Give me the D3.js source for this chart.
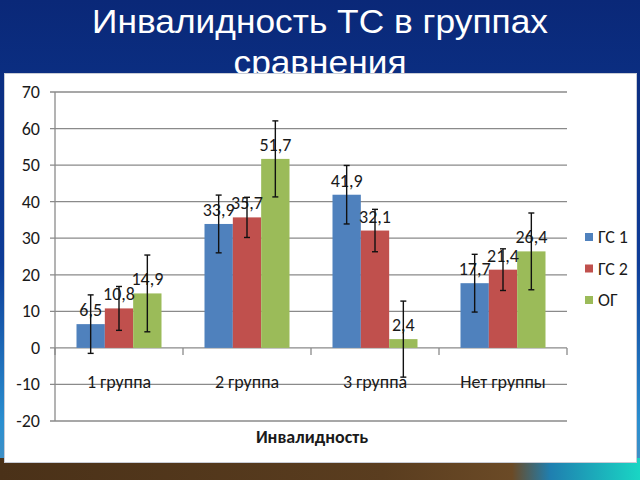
<!DOCTYPE html>
<html><head><meta charset="utf-8">
<script src="https://cdn.jsdelivr.net/npm/d3@7"></script>
<style>html,body{margin:0;padding:0;background:#0b2a7c;}svg{display:block;}</style>
</head><body>
<script>
const categories = ["1 группа", "2 группа", "3 группа", "Нет группы"];
const seriesNames = ["ГС 1", "ГС 2", "ОГ"];
const gs1 = [6.5, 33.9, 41.9, 17.7];
const gs2 = [10.8, 35.7, 32.1, 21.4];
const og = [14.9, 51.7, 2.4, 26.4];
const gs1Err = [8.0, 7.9, 8.0, 7.9];
const gs2Err = [6.0, 5.5, 5.8, 5.7];
const ogErr = [10.5, 10.4, 10.4, 10.5];
const yTicks = [-20, -10, 0, 10, 20, 30, 40, 50, 60, 70];
const colors = ["#4f81bd", "#c0504d", "#9bbb59"];
const titleLines = ["Инвалидность ТС в группах", "сравнения"];
const axisTitle = "Инвалидность";

const values = [gs1, gs2, og];
const errs = [gs1Err, gs2Err, ogErr];
const W = 640, H = 480;
const svg = d3.select("body").append("svg").attr("width", W).attr("height", H);
const defs = svg.append("defs");

const bg = defs.append("linearGradient").attr("id", "bg").attr("x1", 0).attr("y1", 0).attr("x2", 0).attr("y2", 1);
bg.append("stop").attr("offset", "0%").attr("stop-color", "#0a2878");
bg.append("stop").attr("offset", "55%").attr("stop-color", "#0d3c98");
bg.append("stop").attr("offset", "88%").attr("stop-color", "#2a8fd0");
bg.append("stop").attr("offset", "100%").attr("stop-color", "#4a90c0");
svg.append("rect").attr("width", W).attr("height", H).attr("fill", "url(#bg)");

const bot = defs.append("linearGradient").attr("id", "bot").attr("x1", 0).attr("y1", 0).attr("x2", 1).attr("y2", 0);
bot.append("stop").attr("offset", "0%").attr("stop-color", "#4a3118");
bot.append("stop").attr("offset", "60%").attr("stop-color", "#5a3d1f");
bot.append("stop").attr("offset", "80%").attr("stop-color", "#6b4a26");
bot.append("stop").attr("offset", "86%").attr("stop-color", "#1f7fb0");
bot.append("stop").attr("offset", "100%").attr("stop-color", "#19d6c4");
svg.append("rect").attr("x", 0).attr("y", 458).attr("width", W).attr("height", 22).attr("fill", "url(#bot)");

// title
const titleWidths = [456, 173];
svg.selectAll("text.title").data(titleLines).enter().append("text")
  .attr("x", 320).attr("y", (d, i) => 33 + i * 41)
  .attr("text-anchor", "middle").attr("fill", "#ffffff")
  .attr("font-family", "Liberation Sans, Arial, sans-serif").attr("font-size", 33)
  .attr("textLength", (d, i) => titleWidths[i]).attr("lengthAdjust", "spacingAndGlyphs")
  .text(d => d);

// white panel
svg.append("rect").attr("x", 4.5).attr("y", 73.5).attr("width", 632).attr("height", 389)
  .attr("fill", "#ffffff").attr("stroke", "#c8ccd6").attr("stroke-width", 1);

const font = "Carlito, Lato, 'Open Sans', sans-serif";
const y = d3.scaleLinear().domain([-20, 70]).range([421, 92]);
const x0 = d3.scaleBand().domain(categories).range([55, 567]);
const x1 = d3.scaleBand().domain(seriesNames).range([21.5, x0.bandwidth() - 21.5]);

// gridlines
svg.append("g").selectAll("line").data(yTicks).enter().append("line")
  .attr("x1", 50).attr("x2", 567).attr("y1", d => y(d)).attr("y2", d => y(d))
  .attr("stroke", "#8a8a8a").attr("stroke-width", 1.3);
svg.append("line").attr("x1", 55).attr("x2", 55).attr("y1", y(70)).attr("y2", y(-20))
  .attr("stroke", "#8a8a8a").attr("stroke-width", 1.3);
// y labels
svg.append("g").selectAll("text").data(yTicks).enter().append("text")
  .attr("x", 40).attr("y", d => y(d) + 6).attr("text-anchor", "end")
  .attr("font-family", font).attr("font-size", 18).attr("fill", "#1a1a1a").text(d => d);

// category ticks on zero line
const bounds = categories.map(c => x0(c)).concat([x0.range()[1]]);
svg.append("g").selectAll("line").data(bounds).enter().append("line")
  .attr("x1", d => d).attr("x2", d => d).attr("y1", y(0)).attr("y2", y(0) + 7)
  .attr("stroke", "#8a8a8a").attr("stroke-width", 1.3);

// bars
const flat = [];
categories.forEach((c, ci) => seriesNames.forEach((s, si) => {
  flat.push({c, s, si, v: values[si][ci], e: errs[si][ci]});
}));
const g = svg.append("g");
g.selectAll("rect").data(flat).enter().append("rect")
  .attr("x", d => x0(d.c) + x1(d.s)).attr("width", x1.bandwidth())
  .attr("y", d => y(Math.max(0, d.v))).attr("height", d => Math.abs(y(d.v) - y(0)))
  .attr("fill", d => colors[d.si]);

// data labels
g.selectAll("text").data(flat).enter().append("text")
  .attr("x", d => x0(d.c) + x1(d.s) + x1.bandwidth() / 2)
  .attr("y", d => y(d.v) - 8).attr("text-anchor", "middle")
  .attr("font-family", font).attr("font-size", 18).attr("fill", "#1a1a1a")
  .text(d => String(d.v).replace(".", ","));

// error bars
const eb = svg.append("g").attr("stroke", "#111").attr("stroke-width", 1.4);
flat.forEach(d => {
  const cx = x0(d.c) + x1(d.s) + x1.bandwidth() / 2;
  const t = y(d.v + d.e), b = y(d.v - d.e);
  eb.append("line").attr("x1", cx).attr("x2", cx).attr("y1", t).attr("y2", b);
  eb.append("line").attr("x1", cx - 3).attr("x2", cx + 3).attr("y1", t).attr("y2", t);
  eb.append("line").attr("x1", cx - 3).attr("x2", cx + 3).attr("y1", b).attr("y2", b);
});

// category labels
svg.append("g").selectAll("text").data(categories).enter().append("text")
  .attr("x", d => x0(d) + x0.bandwidth() / 2).attr("y", 388).attr("text-anchor", "middle")
  .attr("font-family", font).attr("font-size", 18).attr("fill", "#1a1a1a").text(d => d);

// axis title
svg.append("text").attr("x", 312).attr("y", 443).attr("text-anchor", "middle")
  .attr("font-family", font).attr("font-size", 18).attr("font-weight", "bold").attr("fill", "#1a1a1a")
  .text(axisTitle);

// legend
const lg = svg.append("g").selectAll("g").data(seriesNames).enter().append("g")
  .attr("transform", (d, i) => `translate(585, ${237 + i * 31.5})`);
lg.append("rect").attr("x", 0).attr("y", -4).attr("width", 8).attr("height", 8).attr("fill", (d, i) => colors[i]);
lg.append("text").attr("x", 13).attr("y", 6).attr("font-family", font).attr("font-size", 18)
  .attr("fill", "#1a1a1a").text(d => d);
</script>
</body></html>
